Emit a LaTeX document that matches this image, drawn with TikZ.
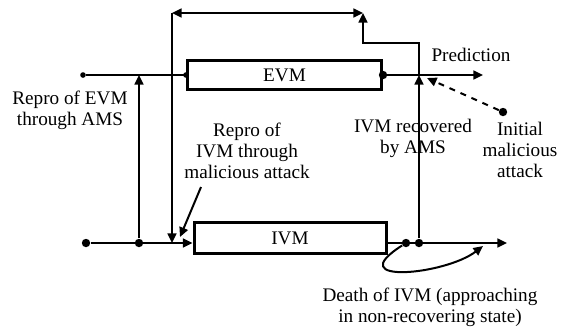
\documentclass[tikz,border=0pt]{standalone}
\usepackage{fontspec}
\setmainfont{Liberation Serif}
\usetikzlibrary{arrows.meta}

\begin{document}
\begin{tikzpicture}[
    x=0.5pt, y=-0.5pt,
    font=\fontsize{9.6}{10.6}\selectfont,
    box/.style={draw, line width=1.5pt, minimum width=97pt, minimum height=14.5pt, inner sep=0pt},
    link/.style={line width=1pt},
    arrow/.style={link, -{Triangle[length=4.8pt,width=4.4pt]}},
    twoway/.style={link, {Triangle[length=4.8pt,width=4.4pt]}-{Triangle[length=4.8pt,width=4.4pt]}},
    dot/.style={circle, fill, inner sep=0pt, minimum size=4.2pt},
    smalldot/.style={circle, fill, inner sep=0pt, minimum size=2.8pt},
    lbl/.style={align=center, inner sep=0pt}
  ]
    \useasboundingbox (0,0) rectangle (561,329);

    % the two machines
    \node[box] (evm) at (284.5,75) {EVM};
    \node[box, minimum width=96pt, minimum height=15.5pt] (ivm) at (290,238) {IVM};

    % points on the lines
    \node[smalldot] (evmsrc) at (83,75) {};
    \coordinate (evmfork) at (139,75);
    \node[dot] (ivmsrc) at (86,243) {};
    \node[dot] (ivmfork) at (139,243) {};
    \node[dot] (ivmdie) at (406,243) {};
    \node[dot] (ivmrec) at (419,243) {};
    \coordinate (ivmout) at (507,243);
    \coordinate (evmrec) at (419,75);
    \coordinate (predout) at (483,75);
    \coordinate (step) at (419,43);
    \coordinate (topr) at (363,13);
    \coordinate (topl) at (172,13);
    \coordinate (atkfrom) at (201,187);
    \coordinate (atkto) at (180,237);
    \coordinate (hit) at (427,78);
    \coordinate (dieto) at (483,246);
    \node[dot] (init) at (503,112) {};

    % labels
    \node[lbl] (reproevm) at (70,110) {Repro of EVM\\through AMS};
    \node[lbl] (reproivm) at (247,151) {Repro of\\IVM through\\malicious attack};
    \node[lbl] (recov) at (413,138) {IVM recovered\\by AMS};
    \node[lbl] (initlbl) at (520,150) {Initial\\malicious\\attack};
    \node[lbl] (predlbl) at (471,55) {Prediction};
    \node[lbl] (death) at (430,307) {Death of IVM (approaching\\in non-recovering state)};

    % connectors
    \draw[link] (evmsrc) -- (evm.west);
    \fill (evm.west) circle (1.4pt);
    \fill (evm.east) circle (2.1pt);
    \draw[arrow] (evm.east) -- (predout);
    \draw[arrow] (ivmsrc) -- (ivmsrc -| ivm.west);
    \draw[arrow] (ivmfork) -- (evmfork);
    \draw[arrow] (ivmsrc -| ivm.east) -- (ivmout);
    \draw[arrow] (ivmrec) -- (evmrec);
    \draw[arrow] (evmrec) -- (step) -| (topr);
    \draw[twoway] (topl) -- (topr);
    \draw[arrow] (topl) -- (topl |- ivmsrc);
    \draw[arrow] (atkfrom) -- (atkto);
    \draw[arrow, dashed] (init) -- (hit);
    \draw[arrow] (ivmdie) .. controls (340,285) and (445,275) .. (dieto);
  \end{tikzpicture}
\end{document}
